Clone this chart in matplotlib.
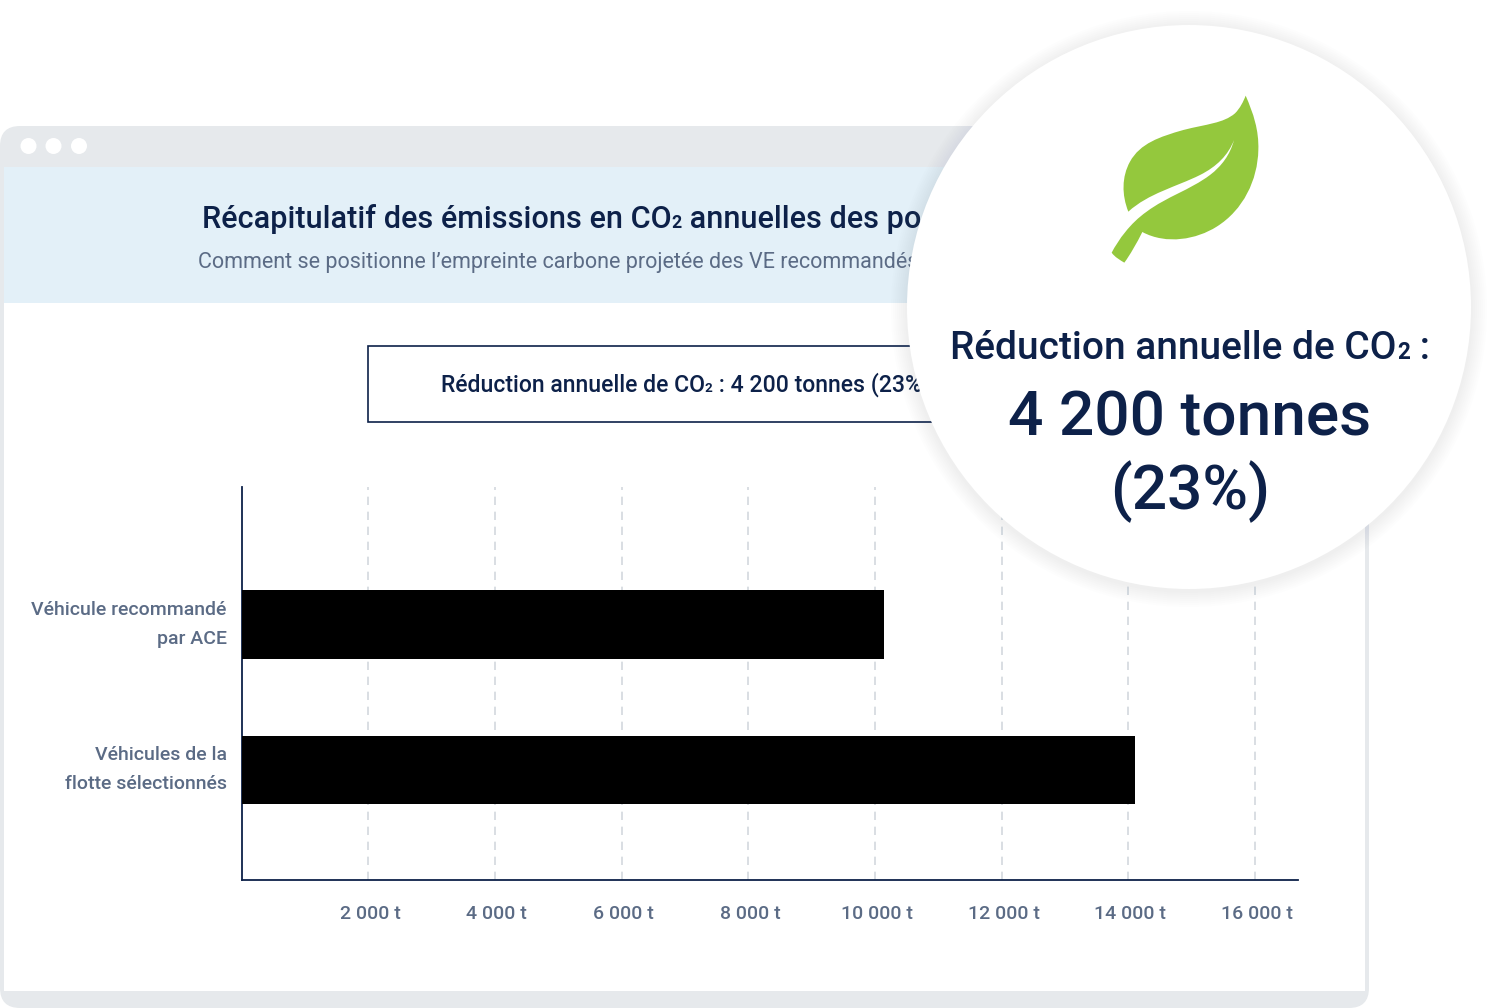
import matplotlib
matplotlib.use('Agg')
import matplotlib.pyplot as plt
from matplotlib.patches import Circle, FancyBboxPatch, PathPatch, Rectangle
from matplotlib.path import Path
from matplotlib.transforms import ScaledTranslation

plt.rcParams['font.family'] = ['Roboto', 'DejaVu Sans']

# === Data ===
categories = ['Véhicules de la\nflotte sélectionnés', 'Véhicule recommandé\npar ACE']
emissions = [14100, 10140]
x_ticks = [2000, 4000, 6000, 8000, 10000, 12000, 14000, 16000]
x_tick_labels = ['2 000 t', '4 000 t', '6 000 t', '8 000 t', '10 000 t', '12 000 t', '14 000 t', '16 000 t']

title = 'Récapitulatif des émissions en CO₂ annuelles des po'
subtitle = 'Comment se positionne l’empreinte carbone projetée des VE recommandés'
box_text = 'Réduction annuelle de CO₂ : 4 200 tonnes (23%)'
bubble_label = 'Réduction annuelle de CO₂ :'
bubble_value = '4 200 tonnes'
bubble_pct = '(23%)'

NAVY = '#0d2149'
SLATE = '#5b6b85'
FRAME = '#e6e9ec'
HEADER = '#e3f0f8'
LEAF = '#94c83d'

W, H = 1496, 1008
fig = plt.figure(figsize=(W / 100, H / 100), dpi=100, facecolor='white')
renderer = fig.canvas.get_renderer()


def px_axes(left, top, right, bottom, z):
    return fig.add_axes([left / W, 1 - bottom / H, (right - left) / W, (bottom - top) / H], zorder=z)


def co2_text(a, x, baseline, text, size, center=False):
    # the small 2 sits on the baseline in the picture, Roboto's own subscript drops too low
    before, after = text.split('₂')
    runs = [(before, size, 'medium'), ('2', size * 0.58, 'bold'), (after, size, 'medium')]
    items = [a.text(x, baseline, s, fontsize=fs, fontweight=fw, color=NAVY, va='baseline', ha='left')
             for s, fs, fw in runs]
    widths = [t.get_window_extent(renderer).width for t in items]
    pos = x - sum(widths) / 2 if center else x
    for t, w in zip(items, widths):
        t.set_x(pos)
        pos += w


# === Browser window behind the chart ===
bg = px_axes(0, 0, W, H, 1)
bg.set_xlim(0, W)
bg.set_ylim(H, 0)
bg.axis('off')
bg.add_patch(FancyBboxPatch((0, 126), 1369, 882, boxstyle='round,pad=0,rounding_size=20', fc=FRAME, ec='none'))
bg.add_patch(Rectangle((4, 167), 1361, 824, fc='white', ec='none'))
bg.add_patch(Rectangle((4, 167), 1361, 136, fc=HEADER, ec='none'))
for cx in [28.5, 53.5, 79]:
    bg.add_patch(Circle((cx, 146), 8, fc='white', ec='none'))
co2_text(bg, 202, 228, title, 22.1)
bg.text(198, 262.5, subtitle, fontsize=15.5, color=SLATE, va='center', ha='left')
bg.add_patch(Rectangle((368, 346), 670, 76, fc='white', ec=NAVY, lw=1.2))
co2_text(bg, 441, 392, box_text, 16.6)

# === Bar chart ===
ax = px_axes(241.5, 487, 1298, 879.5, 2)
ax.patch.set_alpha(0)
ax.barh([0, 1], emissions, height=0.474, color='black', zorder=3)
ax.set_xlim(0, 16680)
ax.set_ylim(-0.7526, 1.945)
ax.set_yticks([0, 1])
ax.set_yticklabels(categories, linespacing=1.78)
ax.set_xticks(x_ticks)
ax.set_xticklabels(x_tick_labels)
ax.tick_params(axis='both', length=0, labelcolor=SLATE, labelsize=14)
ax.tick_params(axis='x', pad=18.5)
ax.tick_params(axis='y', pad=10.7)
shift_x = ScaledTranslation(2 / 100, 0, fig.dpi_scale_trans)
shift_y = ScaledTranslation(0, 7.5 / 100, fig.dpi_scale_trans)
for lab in ax.get_xticklabels():
    lab.set_fontweight('medium')
    lab.set_transform(lab.get_transform() + shift_x)
for lab in ax.get_yticklabels():
    lab.set_fontweight('medium')
    lab.set_transform(lab.get_transform() + shift_y)
ax.grid(axis='x', color='#d3d8de', linestyle=(0, (5, 4)), linewidth=1.2, zorder=1)
ax.set_axisbelow(True)
ax.spines['top'].set_visible(False)
ax.spines['right'].set_visible(False)
for side in ['left', 'bottom']:
    ax.spines[side].set_color(NAVY)
    ax.spines[side].set_linewidth(1.3)

# === Bubble on top ===
top = px_axes(0, 0, W, H, 3)
top.set_xlim(0, W)
top.set_ylim(H, 0)
top.axis('off')
top.patch.set_alpha(0)
cx, cy, r = 1189, 307, 282
for grow in range(16, 0, -2):
    top.add_patch(Circle((cx, cy + 2), r + grow, fc='#7f8794', ec='none', alpha=0.012))
top.add_patch(Circle((cx, cy), r, fc='white', ec='none'))

# leaf outline
leaf = [
    (497, 47),
    (520, 100), (537, 150), (535, 210),
    (533, 300), (490, 390), (410, 440),
    (350, 478), (260, 495), (187, 456),
    (170, 490), (150, 525), (133, 548),
    (120, 540), (105, 532), (95, 518),
    (115, 480), (150, 430), (200, 395),
    (260, 350), (330, 330), (390, 285),
    (425, 258), (450, 225), (462, 180),
    (445, 225), (410, 260), (360, 285),
    (290, 320), (205, 340), (145, 395),
    (125, 345), (125, 290), (150, 245),
    (180, 190), (240, 170), (310, 150),
    (380, 132), (430, 130), (465, 100),
    (480, 85), (490, 65), (497, 47),
]
verts = [(1080 + x / 3, 80 + y / 3) for x, y in leaf]
codes = [Path.MOVETO] + [Path.CURVE4] * (len(verts) - 1)
top.add_patch(PathPatch(Path(verts, codes), fc=LEAF, ec='none'))

co2_text(top, 1190, 359, bubble_label, 28.0, center=True)
top.text(1190, 418, bubble_value, fontsize=44.8, fontweight='medium', color=NAVY, ha='center', va='center')
top.text(1190, 492, bubble_pct, fontsize=44.8, fontweight='medium', color=NAVY, ha='center', va='center')

fig.savefig('out.png', dpi=100)
